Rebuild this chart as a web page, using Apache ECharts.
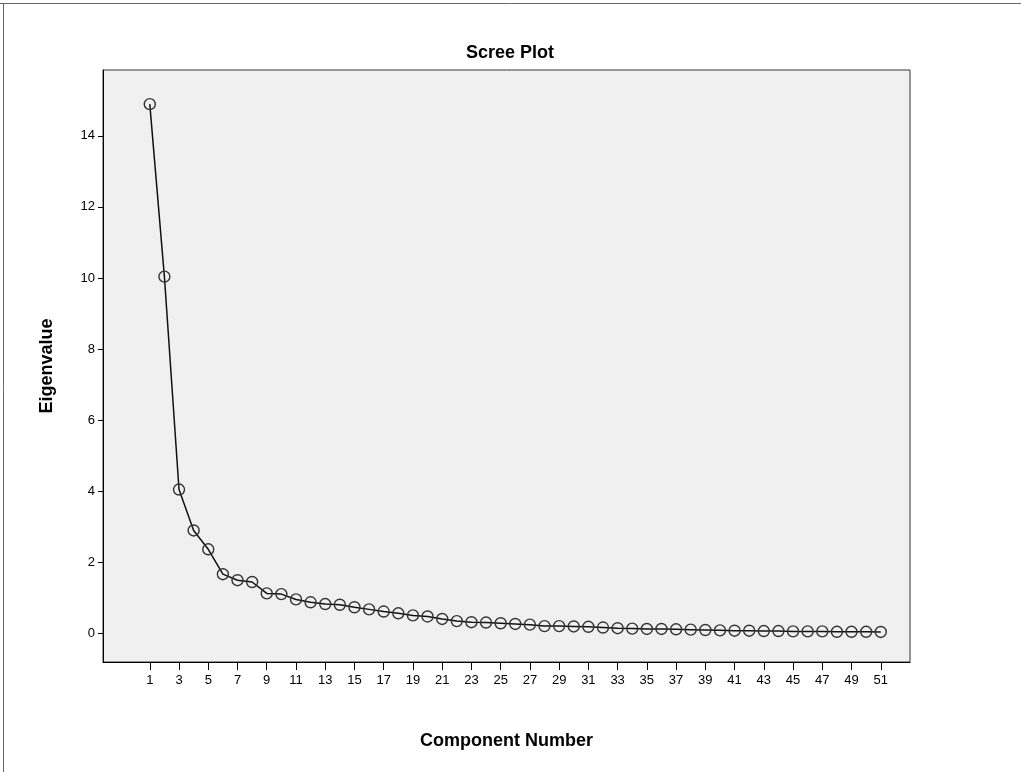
<!DOCTYPE html>
<html>
<head>
<meta charset="utf-8">
<script src="https://cdn.jsdelivr.net/npm/echarts@6/dist/echarts.min.js"></script>
<style>
html,body{margin:0;padding:0;background:#fff;}
#chart{width:1021px;height:772px;}
</style>
</head>
<body>
<div id="chart"></div>
<script>
const components = [1,2,3,4,5,6,7,8,9,10,11,12,13,14,15,16,17,18,19,20,21,22,23,24,25,26,27,28,29,30,31,32,33,34,35,36,37,38,39,40,41,42,43,44,45,46,47,48,49,50,51];
const eigenvalues = [14.89,10.04,4.05,2.90,2.37,1.67,1.50,1.45,1.13,1.11,
  0.96,0.88,0.83,0.81,0.74,0.68,0.62,0.57,0.51,0.48,
  0.41,0.35,0.32,0.31,0.29,0.27,0.25,0.21,0.21,0.20,
  0.19,0.17,0.15,0.14,0.13,0.13,0.12,0.11,0.10,0.09,
  0.08,0.08,0.07,0.07,0.06,0.06,0.06,0.05,0.05,0.05,0.045];
const xTicks = [1,3,5,7,9,11,13,15,17,19,21,23,25,27,29,31,33,35,37,39,41,43,45,47,49,51];
const yTicks = [0,2,4,6,8,10,12,14];

const font = 'Liberation Sans, Arial, sans-serif';
const chart = echarts.init(document.getElementById('chart'), null, {renderer:'canvas'});
chart.setOption({
  animation:false,
  backgroundColor:'#ffffff',
  title:{text:'Scree Plot', left:505, top:39, textAlign:'center',
    textStyle:{fontFamily:font,fontSize:18,fontWeight:'bold',color:'#000'}},
  graphic:[
    {type:'line', shape:{x1:0,y1:3.5,x2:1021,y2:3.5}, style:{stroke:'#666',lineWidth:1}},
    {type:'line', shape:{x1:3.5,y1:3,x2:3.5,y2:772}, style:{stroke:'#666',lineWidth:1}}
  ],
  grid:{left:103,right:111,top:70,bottom:110,show:true,backgroundColor:'#f0f0f0',borderColor:'#333',borderWidth:1},
  xAxis:{type:'value', min:-2.2, max:53,
    name:'Component Number', nameLocation:'middle', nameGap:70,
    nameTextStyle:{fontFamily:font,fontSize:18,fontWeight:'bold',color:'#000'},
    axisLine:{show:true,onZero:false,lineStyle:{color:'#000',width:1}},
    axisTick:{show:true,length:8,customValues:xTicks,lineStyle:{color:'#000'}},
    axisLabel:{customValues:xTicks,fontFamily:font,fontSize:13,color:'#000',margin:12},
    splitLine:{show:false}},
  yAxis:{type:'value', min:-0.8, max:15.85,
    name:'Eigenvalue', nameLocation:'middle', nameGap:47, nameRotate:90,
    nameTextStyle:{fontFamily:font,fontSize:18,fontWeight:'bold',color:'#000'},
    axisLine:{show:true,onZero:false,lineStyle:{color:'#000',width:1}},
    axisTick:{show:true,length:5,customValues:yTicks,lineStyle:{color:'#000'}},
    axisLabel:{customValues:yTicks,fontFamily:font,fontSize:13,color:'#000',margin:8},
    splitLine:{show:false}},
  series:[{type:'line',
    data:components.map((c,i)=>[c,eigenvalues[i]]),
    lineStyle:{color:'#111',width:1.5},
    symbol:'circle', symbolSize:11,
    itemStyle:{color:'rgba(0,0,0,0)',borderColor:'#333',borderWidth:1.4},
    emphasis:{disabled:true}}]
});
</script>
</body>
</html>
